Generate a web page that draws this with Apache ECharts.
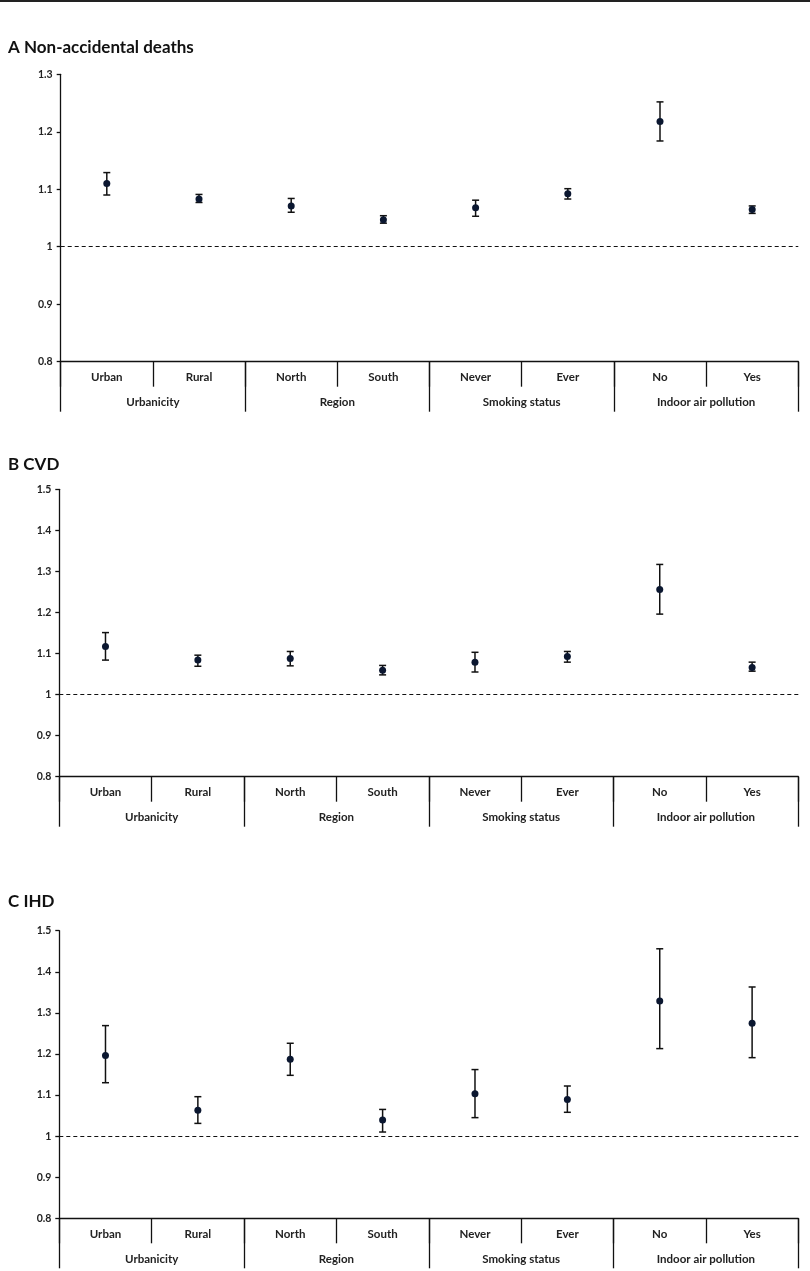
<!DOCTYPE html>
<html>
<head>
<meta charset="utf-8">
<script src="https://cdn.jsdelivr.net/npm/echarts@6/dist/echarts.min.js"></script>
<style>
html,body{margin:0;padding:0;background:#fff;}
#chart{width:810px;height:1271px;}
</style>
</head>
<body>
<div id="chart"></div>
<script>
// ---- data ----
const categories = ['Urban','Rural','North','South','Never','Ever','No','Yes'];
const groups = ['Urbanicity','Region','Smoking status','Indoor air pollution'];
const panelTitles = ['A Non-accidental deaths','B CVD','C IHD'];

const aEst  = [1.110, 1.083, 1.071, 1.047, 1.068, 1.092, 1.218, 1.065];
const aLow  = [1.090, 1.077, 1.060, 1.041, 1.053, 1.083, 1.184, 1.058];
const aHigh = [1.129, 1.091, 1.084, 1.054, 1.081, 1.101, 1.252, 1.071];

const bEst  = [1.117, 1.084, 1.088, 1.059, 1.079, 1.093, 1.256, 1.066];
const bLow  = [1.084, 1.069, 1.070, 1.048, 1.055, 1.079, 1.196, 1.057];
const bHigh = [1.151, 1.096, 1.105, 1.071, 1.103, 1.105, 1.317, 1.079];

const cEst  = [1.196, 1.063, 1.187, 1.039, 1.103, 1.089, 1.329, 1.275];
const cLow  = [1.130, 1.031, 1.148, 1.010, 1.045, 1.058, 1.213, 1.191];
const cHigh = [1.269, 1.096, 1.226, 1.065, 1.162, 1.122, 1.456, 1.363];

const yMin = [0.8, 0.8, 0.8];
const yMax = [1.3, 1.5, 1.5];
const yStep = 0.1;
const refValue = 1;

const panels = [
  {est: aEst, low: aLow, high: aHigh},
  {est: bEst, low: bLow, high: bHigh},
  {est: cEst, low: cLow, high: cHigh}
];

// ---- layout ----
const FONT = 'Lato, "Open Sans", sans-serif';
const gridPos = [
  {top: 74.3, bottom: 909.3, left: 60.7, right: 11.7},
  {top: 489.3, bottom: 494.3, left: 59.3, right: 11.7},
  {top: 930.7, bottom: 52.7, left: 59.3, right: 11.7}
];
const titleTops = [34, 451, 888];

const grid = [], xAxis = [], yAxis = [], series = [], title = [];
panels.forEach((p, i) => {
  grid.push(Object.assign({containLabel: false}, gridPos[i]));
  title.push({
    text: panelTitles[i], left: 3, top: titleTops[i],
    textStyle: {fontFamily: FONT, fontWeight: 'bold', fontSize: 17, color: '#111'}
  });
  xAxis.push({
    type: 'category', gridIndex: i, data: categories, position: 'bottom',
    boundaryGap: true,
    axisLine: {show: true, lineStyle: {color: '#111', width: 1.3}},
    axisTick: {show: true, length: 25, lineStyle: {color: '#111', width: 1.3}},
    axisLabel: {margin: 10, fontFamily: FONT, fontWeight: 'bold', fontSize: 11.5, color: '#222'},
    splitLine: {show: false}
  });
  xAxis.push({
    type: 'category', gridIndex: i, data: groups, position: 'bottom',
    boundaryGap: true,
    axisLine: {show: false},
    axisTick: {show: true, length: 50, lineStyle: {color: '#111', width: 1.3}},
    axisLabel: {margin: 35, fontFamily: FONT, fontWeight: 'bold', fontSize: 11.5, color: '#222'},
    splitLine: {show: false}
  });
  yAxis.push({
    type: 'value', gridIndex: i, min: yMin[i], max: yMax[i], interval: yStep,
    axisLine: {show: true, lineStyle: {color: '#111', width: 1.3}},
    axisTick: {show: true, length: 4, inside: false, lineStyle: {color: '#111', width: 1.3}},
    axisLabel: {margin: 8, fontFamily: FONT, fontWeight: 'bold', fontSize: 10.5, color: '#222',
      formatter: v => String(Math.round(v * 10) / 10)},
    splitLine: {show: false}
  });
  // error bars
  series.push({
    type: 'custom', xAxisIndex: i * 2, yAxisIndex: i,
    data: categories.map((c, k) => [k, p.low[k], p.high[k]]),
    renderItem: (params, api) => {
      const lo = api.coord([api.value(0), api.value(1)]);
      const hi = api.coord([api.value(0), api.value(2)]);
      const hw = 3.5;
      const st = {stroke: '#111', lineWidth: 1.5};
      return {type: 'group', children: [
        {type: 'line', shape: {x1: lo[0], y1: lo[1], x2: hi[0], y2: hi[1]}, style: st},
        {type: 'line', shape: {x1: lo[0]-hw, y1: lo[1], x2: lo[0]+hw, y2: lo[1]}, style: st},
        {type: 'line', shape: {x1: hi[0]-hw, y1: hi[1], x2: hi[0]+hw, y2: hi[1]}, style: st}
      ]};
    },
    z: 3, silent: true
  });
  // point estimates + reference line
  series.push({
    type: 'scatter', xAxisIndex: i * 2, yAxisIndex: i,
    data: categories.map((c, k) => [k, p.est[k]]),
    symbol: 'circle', symbolSize: 7,
    itemStyle: {color: '#0b1730', opacity: 1},
    z: 4, silent: true,
    markLine: {
      silent: true, symbol: ['none', 'none'],
      label: {show: false},
      lineStyle: {type: [4, 3], color: '#111', width: 1.2},
      data: [{yAxis: refValue}]
    }
  });
});

const chart = echarts.init(document.getElementById('chart'), null, {renderer: 'canvas'});
chart.setOption({
  animation: false,
  backgroundColor: '#fff',
  title, grid, xAxis, yAxis, series,
  graphic: [{type: 'rect', shape: {x: 0, y: 0, width: 810, height: 2}, style: {fill: '#222'}}]
});
</script>
</body>
</html>
